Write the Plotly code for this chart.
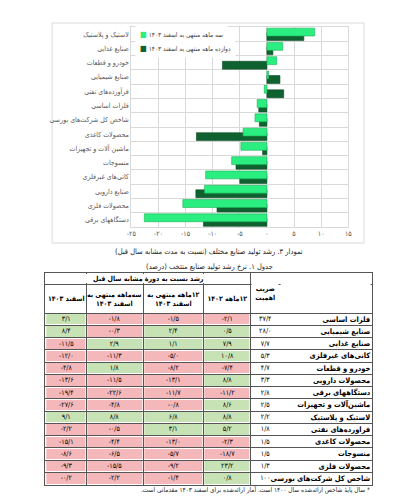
import plotly.graph_objects as go

# ---------------- chart data ----------------
categories = [
    "لاستیک و پلاستیک", "صنایع غذایی", "خودرو و قطعات", "صنایع شیمیایی",
    "فرآورده‌های نفتی", "فلزات اساسی", "شاخص کل شرکت‌های بورسی",
    "محصولات کاغذی", "ماشین آلات و تجهیزات", "منسوجات",
    "کانی‌های غیرفلزی", "صنایع دارویی", "محصولات فلزی", "دستگاههای برقی",
]
growth_3m = [8.8, 2.9, 1.8, 0.3, -0.5, -1.8, -2.2, -4.4, -4.8, -6.5, -11.3, -11.5, -15.5, -22.6]
growth_12m = [6.8, 1.1, -8.2, 2.4, 3.1, -1.5, -1.4, -13.0, -0.8, -5.7, -5.0, -13.1, -9.2, -11.7]
x_ticks = [-25, -20, -15, -10, -5, 0, 5, 10, 15]
series_3m_name = "سه ماهه منتهی به اسفند ۱۴۰۳"
series_12m_name = "دوازده ماهه منتهی به اسفند ۱۴۰۳"

# ---------------- table data ----------------
table_names = [
    "فلزات اساسی", "صنایع شیمیایی", "صنایع غذایی", "کانی‌های غیرفلزی",
    "خودرو و قطعات", "محصولات دارویی", "دستگاههای برقی", "ماشین‌آلات و تجهیزات",
    "لاستیک و پلاستیک", "فراورده‌های نفتی", "محصولات کاغذی", "منسوجات",
    "محصولات فلزی", "شاخص کل شرکت‌های بورسی",
]
weights = [37.4, 28.0, 7.7, 5.3, 4.7, 3.3, 2.8, 2.5, 2.2, 1.8, 1.5, 1.5, 1.3, 100]
g12_1402 = [-2.1, 0.5, 7.9, 10.8, -7.4, 8.8, -11.2, 8.6, 8.8, 5.2, -2.3, -18.7, 23.2, 0.8]
g12_1403 = [-1.5, 2.4, 1.1, -5.0, -8.2, -13.1, -11.7, -0.8, 6.8, 3.1, -13.0, -5.7, -9.2, -1.4]
g3_1403 = [-1.8, -0.3, 2.9, -11.3, 1.8, -11.5, -22.6, -4.8, 8.8, -0.5, -4.4, -6.5, -15.5, -2.2]
esfand_1403 = [3.1, 8.4, -11.5, -12.0, -4.8, -13.6, -19.4, -27.6, 9.1, -2.2, -15.1, -8.6, -9.3, -0.2]
header_group = "رشد نسبت به دورهٔ مشابه سال قبل"
header_cols = ["اسفند ۱۴۰۳", "سه‌ماهه منتهی به<br>اسفند ۱۴۰۳",
               "۱۲ماهه منتهی به<br>اسفند ۱۴۰۳", "۱۲ماهه ۱۴۰۲"]
header_weight = "ضریب<br>اهمیت"
chart_caption = "نمودار ۳. رشد تولید صنایع مختلف (نسبت به مدت مشابه سال قبل)"
table_caption = "جدول ۱. نرخ رشد تولید صنایع منتخب (درصد)"
footnote = "* سال پایهٔ شاخص ارائه‌شده سال ۱۴۰۰ است. آمار ارائه‌شده برای اسفند ۱۴۰۳ مقدماتی است."

# ---------------- helpers / styling ----------------
W, H = 401, 500
FONT = "DejaVu Sans Condensed, DejaVu Sans, sans-serif"
LIGHT, LIGHT_LINE = "#2bee80", "#19b257"
DARK, DARK_LINE = "#0f622f", "#0a4a22"
GRID = "#d9d9d9"
PINK, GREEN_CELL, WHITE = "#f5b8ba", "#c7e3b5", "#ffffff"
TLINE = "#555555"

FA = str.maketrans("0123456789", "۰۱۲۳۴۵۶۷۸۹")
RLM = "\u200f"


def rtl(s):
    return "<br>".join(RLM + p + RLM for p in s.split("<br>"))


def fa_num(v, dec=1):
    s = f"{abs(v):.{dec}f}".replace(".", "/").translate(FA)
    return ("-" if v < 0 else "") + s


def px(x):
    return x / W


def py(y):
    return 1 - y / H


def sign(v):
    return 1 if v > 0 else (-1 if v < 0 else 0)


fig = go.Figure()

# ---------------- bar chart ----------------
fig.add_trace(go.Bar(
    y=categories, x=growth_12m, orientation="h", width=0.55, offset=-0.1,
    name=series_12m_name,
    marker=dict(color=DARK, line=dict(color=DARK_LINE, width=0.6)),
    showlegend=False, hoverinfo="skip"))
fig.add_trace(go.Bar(
    y=categories, x=growth_3m, orientation="h", width=0.55, offset=-0.42,
    name=series_3m_name,
    marker=dict(color=LIGHT, line=dict(color=LIGHT_LINE, width=0.6)),
    showlegend=False, hoverinfo="skip"))

# ---------------- table (heatmap bricks) ----------------
COL_W = [42, 58, 62, 48, 30, 94]
col_edges = [0]
for w in COL_W:
    col_edges.append(col_edges[-1] + w)
HDR1, HDR2, ROW_H = 11, 29, 12.25
n = len(table_names)
row_edges = [HDR1 + HDR2 + ROW_H * i for i in range(n + 1)]
row_centers = [(row_edges[i] + row_edges[i + 1]) / 2 for i in range(n)]
T_TOP, T_BOT = 265, 265 + row_edges[-1]

cscale = [[0, PINK], [0.25, PINK], [0.25, WHITE], [0.75, WHITE], [0.75, GREEN_CELL], [1, GREEN_CELL]]
hm_common = dict(colorscale=cscale, zmin=-1, zmax=1, showscale=False, hoverinfo="skip",
                 xgap=2, ygap=2, texttemplate="%{text}", xaxis="x2", yaxis="y2",
                 textfont=dict(size=7, color="black", family=FONT))

body_z, body_t = [], []
for i in range(n):
    vals = [esfand_1403[i], g3_1403[i], g12_1403[i], g12_1402[i]]
    body_z.append([sign(v) for v in vals] + [0, 0])
    body_t.append([fa_num(v) for v in vals] +
                  [fa_num(weights[i], 0 if weights[i] >= 100 else 1), ""])
fig.add_trace(go.Heatmap(x=col_edges, y=row_edges, z=body_z, text=body_t, **hm_common))

fig.add_trace(go.Heatmap(x=[col_edges[0], col_edges[4]], y=[0, HDR1], z=[[0]],
                         text=[["<b>" + rtl(header_group) + "</b>"]], **hm_common))
fig.add_trace(go.Heatmap(x=col_edges[:5], y=[HDR1, HDR1 + HDR2], z=[[0, 0, 0, 0]],
                         text=[["<b>" + rtl(h) + "</b>" for h in header_cols]], **hm_common))
fig.add_trace(go.Heatmap(x=col_edges[4:], y=[0, HDR1 + HDR2], z=[[0, 0]],
                         text=[["<b>" + rtl(header_weight) + "</b>", ""]], **hm_common))

# ---------------- legend (drawn as annotations) ----------------
legend_items = [(series_3m_name, LIGHT, 26.5), (series_12m_name, DARK, 41)]
legend_ann = []
for name, col, ypos in legend_items:
    legend_ann.append(dict(
        x=px(125), y=py(ypos), xref="paper", yref="paper", xanchor="left", yanchor="middle",
        showarrow=False, bgcolor="white", borderpad=4,
        text=f'<span style="color:{col};font-size:8px">■</span> ' + rtl(name),
        font=dict(size=6.5, color="#404040")))

# ---------------- layout ----------------
fig.update_layout(
    width=W, height=H, margin=dict(l=0, r=0, t=0, b=0),
    paper_bgcolor="white", plot_bgcolor="white",
    font=dict(family=FONT, color="#404040"),
    barmode="overlay", hovermode=False, showlegend=False,
    xaxis=dict(domain=[px(121), px(343)], range=[-25, 15], tickvals=x_ticks,
               ticktext=[fa_num(v, 0) for v in x_ticks], tickfont=dict(size=7, color="#595959"),
               showgrid=True, gridcolor=GRID, gridwidth=1, zeroline=False,
               showline=True, mirror=True, linecolor=GRID, ticks="", anchor="y"),
    yaxis=dict(domain=[py(219), py(19)], type="category",
               range=[len(categories) - 0.5, -0.5], autorange=False,
               tickson="boundaries", showgrid=True, gridcolor=GRID, gridwidth=1,
               showline=True, mirror=True, linecolor=GRID, ticks="",
               tickfont=dict(size=7, color="#595959"), anchor="x"),
    xaxis2=dict(domain=[px(33), px(367)], range=[col_edges[0], col_edges[-1]],
                tickvals=col_edges[1:-1], showticklabels=False, ticks="",
                showgrid=True, gridcolor=TLINE, gridwidth=1, zeroline=False,
                showline=True, mirror=True, linecolor=TLINE, anchor="y2"),
    yaxis2=dict(domain=[py(T_BOT), py(T_TOP)], range=[row_edges[-1], 0],
                tickvals=row_centers, ticktext=[rtl(s) for s in table_names],
                side="right", ticklabelposition="inside", ticks="",
                tickfont=dict(size=7.5, color="black", weight="bold"),
                showgrid=False, zeroline=False,
                minor=dict(tickvals=[HDR1] + row_edges[:-1], showgrid=True,
                           gridcolor=TLINE, gridwidth=1, ticks=""),
                showline=True, mirror=True, linecolor=TLINE, anchor="x2"),
    shapes=[dict(type="rect", xref="paper", yref="paper", x0=px(40), x1=px(359),
                 y0=py(235), y1=py(15), line=dict(color=GRID, width=1), layer="below")],
    annotations=legend_ann + [
        dict(x=px(201), y=py(243), xref="paper", yref="paper", showarrow=False,
             text=rtl(chart_caption), font=dict(size=7.5, color="#262626")),
        dict(x=px(201), y=py(258), xref="paper", yref="paper", showarrow=False,
             text=rtl(table_caption), font=dict(size=7.5, color="#262626")),
        dict(x=px(367), y=py(488), xref="paper", yref="paper", showarrow=False,
             xanchor="right", text=rtl(footnote), font=dict(size=6.5, color="#262626")),
    ],
)

fig.write_html("out.html")
